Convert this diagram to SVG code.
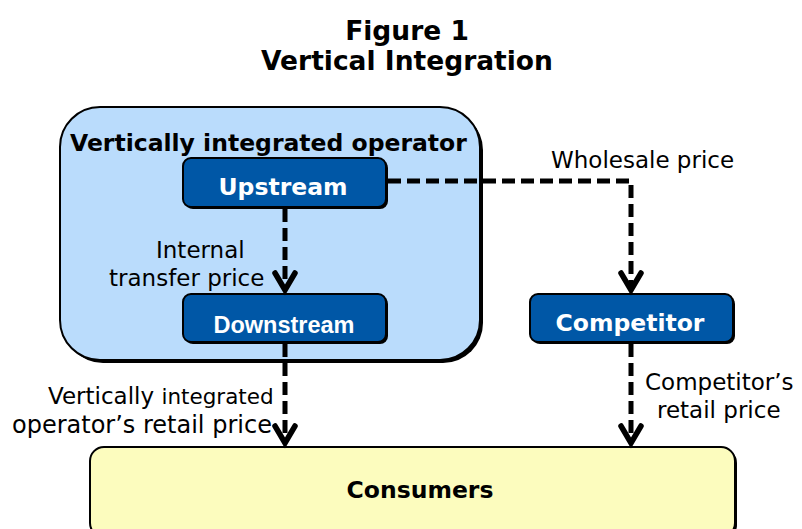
<svg xmlns="http://www.w3.org/2000/svg" width="802" height="529" viewBox="0 0 802 529">
  <style>
    .title { font-family: "DejaVu Sans", Verdana, sans-serif; font-weight: bold; font-size: 26.5px; fill: #000; text-anchor: middle; }
    .group-label { font-family: "DejaVu Sans", Verdana, sans-serif; font-weight: bold; font-size: 23.5px; fill: #000; }
    .node-label { font-family: "DejaVu Sans", Verdana, sans-serif; font-weight: bold; font-size: 23.5px; fill: #fff; text-anchor: middle; }
    .node-label-alt { font-family: "Liberation Sans", Arial, sans-serif; font-weight: bold; font-size: 23.5px; fill: #fff; text-anchor: middle; }
    .edge-label { font-family: "DejaVu Sans", Verdana, sans-serif; font-size: 23px; fill: #000; }
    .consumer-label { font-family: "DejaVu Sans", Verdana, sans-serif; font-weight: bold; font-size: 23.5px; fill: #000; text-anchor: middle; }
    .node { fill: #0057A6; stroke: #000; stroke-width: 2; }
    .shadow { fill: #000; }
    .flow { fill: none; stroke: #000; stroke-width: 5; stroke-dasharray: 13 6; }
    .head { fill: none; stroke: #000; stroke-width: 5.5; stroke-linecap: round; stroke-linejoin: miter; }
  </style>

  <!-- Title -->
  <text class="title" x="407" y="40">Figure 1</text>
  <text class="title" x="407" y="70">Vertical Integration</text>

  <!-- Vertically integrated operator container -->
  <g id="operator">
    <rect class="shadow" x="63" y="110" width="420" height="253" rx="40"/>
    <rect x="60" y="107" width="420" height="253" rx="40" fill="#BADCFC" stroke="#000" stroke-width="2"/>
    <text class="group-label" x="70" y="151">Vertically integrated operator</text>
  </g>

  <!-- Upstream -->
  <g id="upstream">
    <rect class="shadow" x="185" y="160" width="203" height="49" rx="8"/>
    <rect class="node" x="183" y="158" width="203" height="49" rx="8"/>
    <text class="node-label" x="283" y="195">Upstream</text>
  </g>

  <!-- Downstream -->
  <g id="downstream">
    <rect class="shadow" x="185" y="296" width="203" height="48" rx="8"/>
    <rect class="node" x="183" y="294" width="203" height="48" rx="8"/>
    <text class="node-label-alt" x="284" y="333">Downstream</text>
  </g>

  <!-- Competitor -->
  <g id="competitor">
    <rect class="shadow" x="532" y="296" width="203" height="48" rx="8"/>
    <rect class="node" x="530" y="294" width="203" height="48" rx="8"/>
    <text class="node-label" x="630" y="331">Competitor</text>
  </g>

  <!-- Consumers -->
  <g id="consumers">
    <rect class="shadow" x="92" y="449" width="645" height="90" rx="14"/>
    <rect x="90" y="447" width="645" height="90" rx="14" fill="#FCFCBE" stroke="#000" stroke-width="2"/>
    <text class="consumer-label" x="420" y="498">Consumers</text>
  </g>

  <!-- Price flows -->
  <g id="connectors">
    <!-- Upstream to Downstream -->
    <path class="flow" d="M285 209 V290"/>
    <path class="head" d="M275 273 L285 290 L295 273"/>
    <!-- Upstream to Competitor (wholesale) -->
    <path class="flow" d="M388 181 H631 V290"/>
    <path class="head" d="M621 273 L631 290 L641 273"/>
    <!-- Downstream to Consumers -->
    <path class="flow" d="M285 344 V443"/>
    <path class="head" d="M275 426 L285 443 L295 426"/>
    <!-- Competitor to Consumers -->
    <path class="flow" d="M631 344 V443"/>
    <path class="head" d="M621 426 L631 443 L641 426"/>
  </g>

  <!-- Flow labels -->
  <g id="labels">
    <text class="edge-label" x="551" y="168">Wholesale price</text>
    <text class="edge-label" x="156" y="258">Internal</text>
    <text class="edge-label" x="109" y="286">transfer price</text>
    <text class="edge-label" x="48" y="404">Vertically <tspan font-size="21.5px">integrated</tspan></text>
    <text class="edge-label" x="12" y="433" style="font-size:24px">operator’s retail price</text>
    <text class="edge-label" x="645" y="390">Competitor’s</text>
    <text class="edge-label" x="657" y="418">retail price</text>
  </g>
</svg>
